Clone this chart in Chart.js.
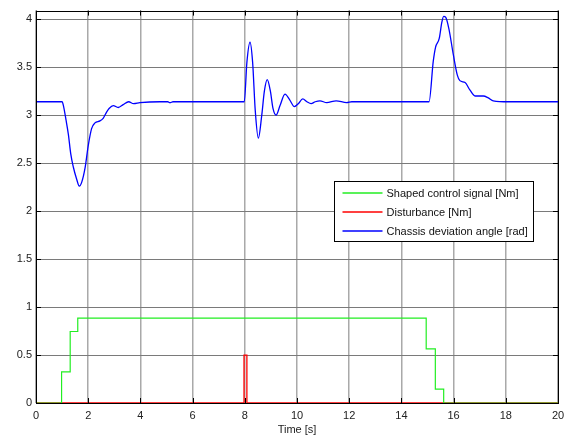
<!DOCTYPE html>
<html>
<head>
<meta charset="utf-8">
<script src="https://cdn.jsdelivr.net/npm/chart.js@4"></script>
<style>
  body { margin: 0; background: #fff; }
  #wrap { position: relative; width: 574px; height: 439px; }
</style>
</head>
<body>
<div id="wrap"><canvas id="chart"></canvas></div>
<script>
// tick labels
const xTicks = [0, 2, 4, 6, 8, 10, 12, 14, 16, 18, 20];
const yTicks = [0, 0.5, 1, 1.5, 2, 2.5, 3, 3.5, 4];

// shaped control signal (step values, held until next time)
const controlTime  = [0, 0.98, 1.31, 1.6, 14.95, 15.3, 15.62, 20];
const controlValue = [0, 0.325, 0.745, 0.885, 0.565, 0.145, 0, 0];

// disturbance pulse
const distTime  = [0, 7.97, 8.08, 20];
const distValue = [0, 0.5, 0, 0];

// chassis deviation angle
const angleTime = [0, 1.0, 1.05, 1.15, 1.24, 1.33, 1.43, 1.55, 1.66, 1.75, 1.88, 2.0, 2.13, 2.26,
  2.45, 2.58, 2.7, 2.8, 2.96, 3.15, 3.34, 3.55, 3.74, 3.98, 4.75, 5.05, 5.13, 5.25, 7.98,
  8.08, 8.2, 8.3, 8.4, 8.52, 8.65, 8.75, 8.86, 8.98, 9.08, 9.2, 9.35, 9.54, 9.72, 9.9,
  10.05, 10.22, 10.38, 10.54, 10.7, 10.88, 11.14, 11.5, 11.9, 12.1, 15.06, 15.22, 15.31,
  15.45, 15.55, 15.62, 15.7, 15.82, 15.99, 16.14, 16.24, 16.44, 16.63, 16.82, 17.14,
  17.33, 17.52, 18.1, 20];
const angleValue = [3.14, 3.14, 3.10, 2.95, 2.80, 2.60, 2.46, 2.34, 2.26, 2.30, 2.45, 2.68, 2.86, 2.92,
  2.94, 2.97, 3.03, 3.07, 3.10, 3.08, 3.11, 3.14, 3.12, 3.13, 3.14, 3.14, 3.13, 3.14, 3.14,
  3.55, 3.76, 3.55, 3.05, 2.76, 3.0, 3.25, 3.37, 3.25, 3.07, 3.0, 3.10, 3.22, 3.16, 3.09,
  3.12, 3.17, 3.14, 3.12, 3.14, 3.15, 3.13, 3.15, 3.13, 3.14, 3.14, 3.56, 3.71,
  3.80, 3.97, 4.03, 4.02, 3.90, 3.63, 3.42, 3.36, 3.34, 3.26, 3.20, 3.20,
  3.18, 3.15, 3.14, 3.14];

function pts(t, v) {
  return t.map((x, i) => ({ x: x, y: v[i] }));
}

const FONT = 'Liberation Sans, Arial, sans-serif';

// box, inward ticks and legend drawn like matlab
const boxPlugin = {
  id: 'box',
  afterDatasetsDraw(chart) {
    const ctx = chart.ctx;
    const a = chart.chartArea;
    const xs = chart.scales.x, ys = chart.scales.y;
    ctx.save();
    ctx.strokeStyle = '#000';
    ctx.lineWidth = 1;
    ctx.beginPath();
    xTicks.forEach(function(t) {
      const px = Math.round(xs.getPixelForValue(t)) + 0.5;
      ctx.moveTo(px, a.bottom); ctx.lineTo(px, a.bottom - 5);
      ctx.moveTo(px, a.top); ctx.lineTo(px, a.top + 5);
    });
    yTicks.forEach(function(t) {
      const py = Math.round(ys.getPixelForValue(t)) + 0.5;
      ctx.moveTo(a.left, py); ctx.lineTo(a.left + 5, py);
      ctx.moveTo(a.right, py); ctx.lineTo(a.right - 5, py);
    });
    ctx.stroke();
    ctx.strokeRect(Math.round(a.left) + 0.5, Math.round(a.top) + 0.5,
      Math.round(a.right - a.left), Math.round(a.bottom - a.top));

    // legend
    ctx.font = '11px ' + FONT;
    const sets = chart.data.datasets;
    let w = 0;
    sets.forEach(d => { w = Math.max(w, ctx.measureText(d.label).width); });
    const bw = Math.round(w + 58), bh = 60;
    const bx = Math.round(a.right - 25 - bw) + 0.5, by = 181.5;
    ctx.fillStyle = '#fff';
    ctx.fillRect(bx, by, bw, bh);
    ctx.strokeStyle = '#000';
    ctx.lineWidth = 1;
    ctx.strokeRect(bx, by, bw, bh);
    ctx.textBaseline = 'middle';
    sets.forEach(function(d, i) {
      const ry = Math.round(by + 11 + i * 19);
      ctx.strokeStyle = d.borderColor;
      ctx.lineWidth = 1.6;
      ctx.beginPath();
      ctx.moveTo(bx + 8, ry); ctx.lineTo(bx + 48, ry);
      ctx.stroke();
      ctx.fillStyle = '#111';
      ctx.fillText(d.label, bx + 52, ry + 0.5);
    });
    ctx.restore();
  }
};

new Chart(document.getElementById('chart'), {
  type: 'line',
  data: {
    datasets: [{
      label: 'Shaped control signal [Nm]',
      data: pts(controlTime, controlValue),
      borderColor: '#22ee22',
      borderWidth: 1.2,
      stepped: 'before',
      pointRadius: 0
    }, {
      label: 'Disturbance [Nm]',
      data: pts(distTime, distValue),
      borderColor: '#ff0000',
      borderWidth: 1.3,
      stepped: 'before',
      pointRadius: 0
    }, {
      label: 'Chassis deviation angle [rad]',
      data: pts(angleTime, angleValue),
      borderColor: '#0000ff',
      borderWidth: 1.3,
      cubicInterpolationMode: 'monotone',
      pointRadius: 0
    }]
  },
  options: {
    responsive: true,
    maintainAspectRatio: false,
    animation: false,
    layout: { padding: { top: 8, right: 16, left: 0, bottom: 0 } },
    plugins: {
      legend: { display: false },
      tooltip: { enabled: false }
    },
    scales: {
      x: {
        type: 'linear',
        min: 0,
        max: 20,
        afterBuildTicks: s => { s.ticks = xTicks.map(v => ({ value: v })); },
        afterFit: s => { s.height = 36; },
        border: { display: false },
        grid: { color: 'rgba(140,140,140,0.75)', lineWidth: 1.5, drawTicks: false },
        ticks: {
          color: '#222', padding: 6, maxRotation: 0,
          font: { family: FONT, size: 11 },
          callback: v => String(v)
        },
        title: {
          display: true,
          text: 'Time [s]',
          color: '#222',
          font: { family: FONT, size: 11 },
          padding: { top: 0, bottom: 2 }
        }
      },
      y: {
        min: 0,
        max: 4.09,
        afterBuildTicks: s => { s.ticks = yTicks.map(v => ({ value: v })); },
        afterFit: s => { s.width = 36; },
        border: { display: false },
        grid: { color: '#7a7a7a', lineWidth: 1, drawTicks: false },
        ticks: {
          color: '#222', padding: 4,
          font: { family: FONT, size: 11 },
          callback: v => String(v)
        }
      }
    }
  },
  plugins: [boxPlugin]
});
</script>
</body>
</html>
